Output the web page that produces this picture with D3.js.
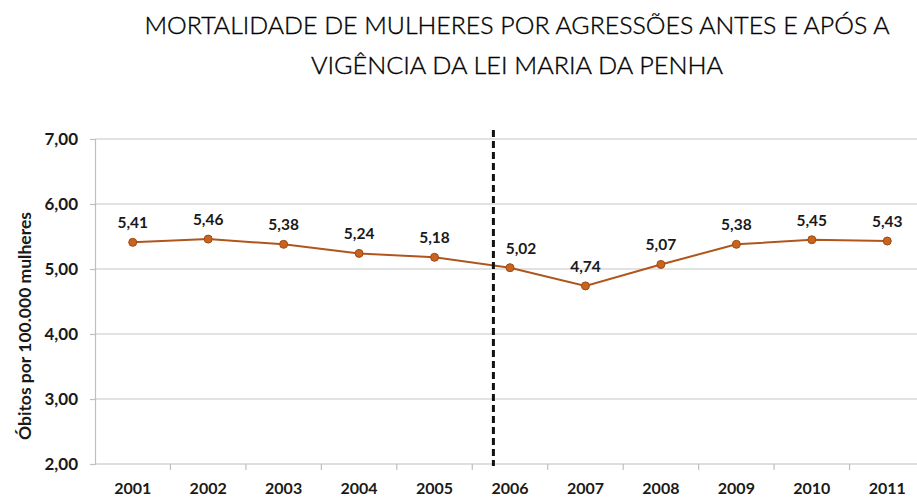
<!DOCTYPE html>
<html><head><meta charset="utf-8">
<script src="https://cdn.jsdelivr.net/npm/d3@7"></script>
<style>
html,body{margin:0;padding:0;background:#fff;}
svg{display:block;}
</style></head>
<body>
<svg id="chart" width="917" height="497"></svg>
<script>
const titleLines = ["MORTALIDADE DE MULHERES POR AGRESSÕES ANTES E APÓS A", "VIGÊNCIA DA LEI MARIA DA PENHA"];
const years = ["2001","2002","2003","2004","2005","2006","2007","2008","2009","2010","2011"];
const values = [5.41,5.46,5.38,5.24,5.18,5.02,4.74,5.07,5.38,5.45,5.43];
const yTicks = [2,3,4,5,6,7];
const yLabel = "Óbitos por 100.000 mulheres";
const lawYear = 2005.78; // vigência da Lei Maria da Penha (ago/2006)

const svg = d3.select("#chart");
const W = 917, H = 497;
const m = {left:95, right:-8, top:139, bottom:33};
const FONT = "Lato, 'Open Sans', sans-serif";

const x = d3.scaleBand().domain(years).range([m.left, W - m.right]).paddingInner(0).paddingOuter(0);
const y = d3.scaleLinear().domain([2,7]).range([H - m.bottom, m.top]);
const fmt = v => d3.format(".2f")(v).replace(".", ",");
const cx = d => x(d) + x.bandwidth()/2;

// title
svg.append("g").selectAll("text").data(titleLines).join("text")
  .attr("x", 517).attr("y", (d,i) => 34 + i*40)
  .attr("text-anchor","middle")
  .attr("font-family",FONT)
  .attr("font-weight",300)
  .attr("font-size", 24)
  .attr("fill","#000")
  .attr("stroke","#000").attr("stroke-width",0.35)
  .attr("textLength", (d,i) => i===0 ? 745 : 412)
  .attr("lengthAdjust","spacingAndGlyphs")
  .text(d => d);

// gridlines
svg.append("g").selectAll("line").data(yTicks.filter(t => t>2)).join("line")
  .attr("x1", m.left).attr("x2", W)
  .attr("y1", d => y(d)).attr("y2", d => y(d))
  .attr("stroke","#d9d9d9").attr("stroke-width",1.5);

// y axis
const yAxis = d3.axisLeft(y).tickValues(yTicks).tickFormat(fmt).tickSize(5).tickPadding(12);
const gy = svg.append("g").attr("transform",`translate(${m.left},0)`).call(yAxis);
gy.select(".domain").attr("stroke","#bfbfbf").attr("stroke-width",1.2);
gy.selectAll(".tick line").attr("stroke","#bfbfbf").attr("stroke-width",1.2);
gy.selectAll(".tick text").attr("font-family",FONT)
  .attr("font-weight","bold").attr("font-size",17).attr("fill","#1a1a1a");

// x axis
const gx = svg.append("g").attr("transform",`translate(0,${y(2)})`);
gx.append("line").attr("x1", m.left).attr("x2", W).attr("y1",0).attr("y2",0)
  .attr("stroke","#bfbfbf").attr("stroke-width",1.2);
gx.selectAll("line.tk").data(years.slice(1)).join("line").attr("class","tk")
  .attr("x1", d => x(d)).attr("x2", d => x(d)).attr("y1",0).attr("y2",6)
  .attr("stroke","#bfbfbf").attr("stroke-width",1.2);
gx.selectAll("text").data(years).join("text")
  .attr("x", d => cx(d)).attr("y", 30)
  .attr("text-anchor","middle")
  .attr("font-family",FONT)
  .attr("font-weight","bold").attr("font-size",16).attr("fill","#1a1a1a")
  .text(d => d);

// y label
svg.append("text")
  .attr("transform", `translate(31,${326}) rotate(-90)`)
  .attr("text-anchor","middle")
  .attr("font-family",FONT)
  .attr("font-weight","bold").attr("font-size",17.5).attr("fill","#1a1a1a")
  .text(yLabel);

// line
const line = d3.line().x((d,i) => cx(years[i])).y(d => y(d));
svg.append("path").datum(values).attr("d", line)
  .attr("fill","none").attr("stroke","#b0561c").attr("stroke-width",2);

// law dashed line
const yearX = d3.scaleLinear().domain([+years[0], +years[years.length-1]])
  .range([cx(years[0]), cx(years[years.length-1])]);
svg.append("line")
  .attr("x1", yearX(lawYear)).attr("x2", yearX(lawYear))
  .attr("y1", 130).attr("y2", y(2) + 2)
  .attr("stroke","#111").attr("stroke-width",3)
  .attr("stroke-dasharray","7,4");

// markers
svg.append("g").selectAll("circle").data(values).join("circle")
  .attr("cx",(d,i) => cx(years[i])).attr("cy", d => y(d)).attr("r",4)
  .attr("fill","#c8641f").attr("stroke","#9e4a14").attr("stroke-width",1);

// data labels
svg.append("g").selectAll("text").data(values).join("text")
  .attr("x",(d,i) => cx(years[i]) + (years[i]==="2006" ? 11 : 0))
  .attr("y", d => y(d) - 14)
  .attr("text-anchor","middle")
  .attr("font-family",FONT)
  .attr("font-weight","bold").attr("font-size",15.5).attr("fill","#1a1a1a")
  .text(d => fmt(d));
</script>
</body></html>
